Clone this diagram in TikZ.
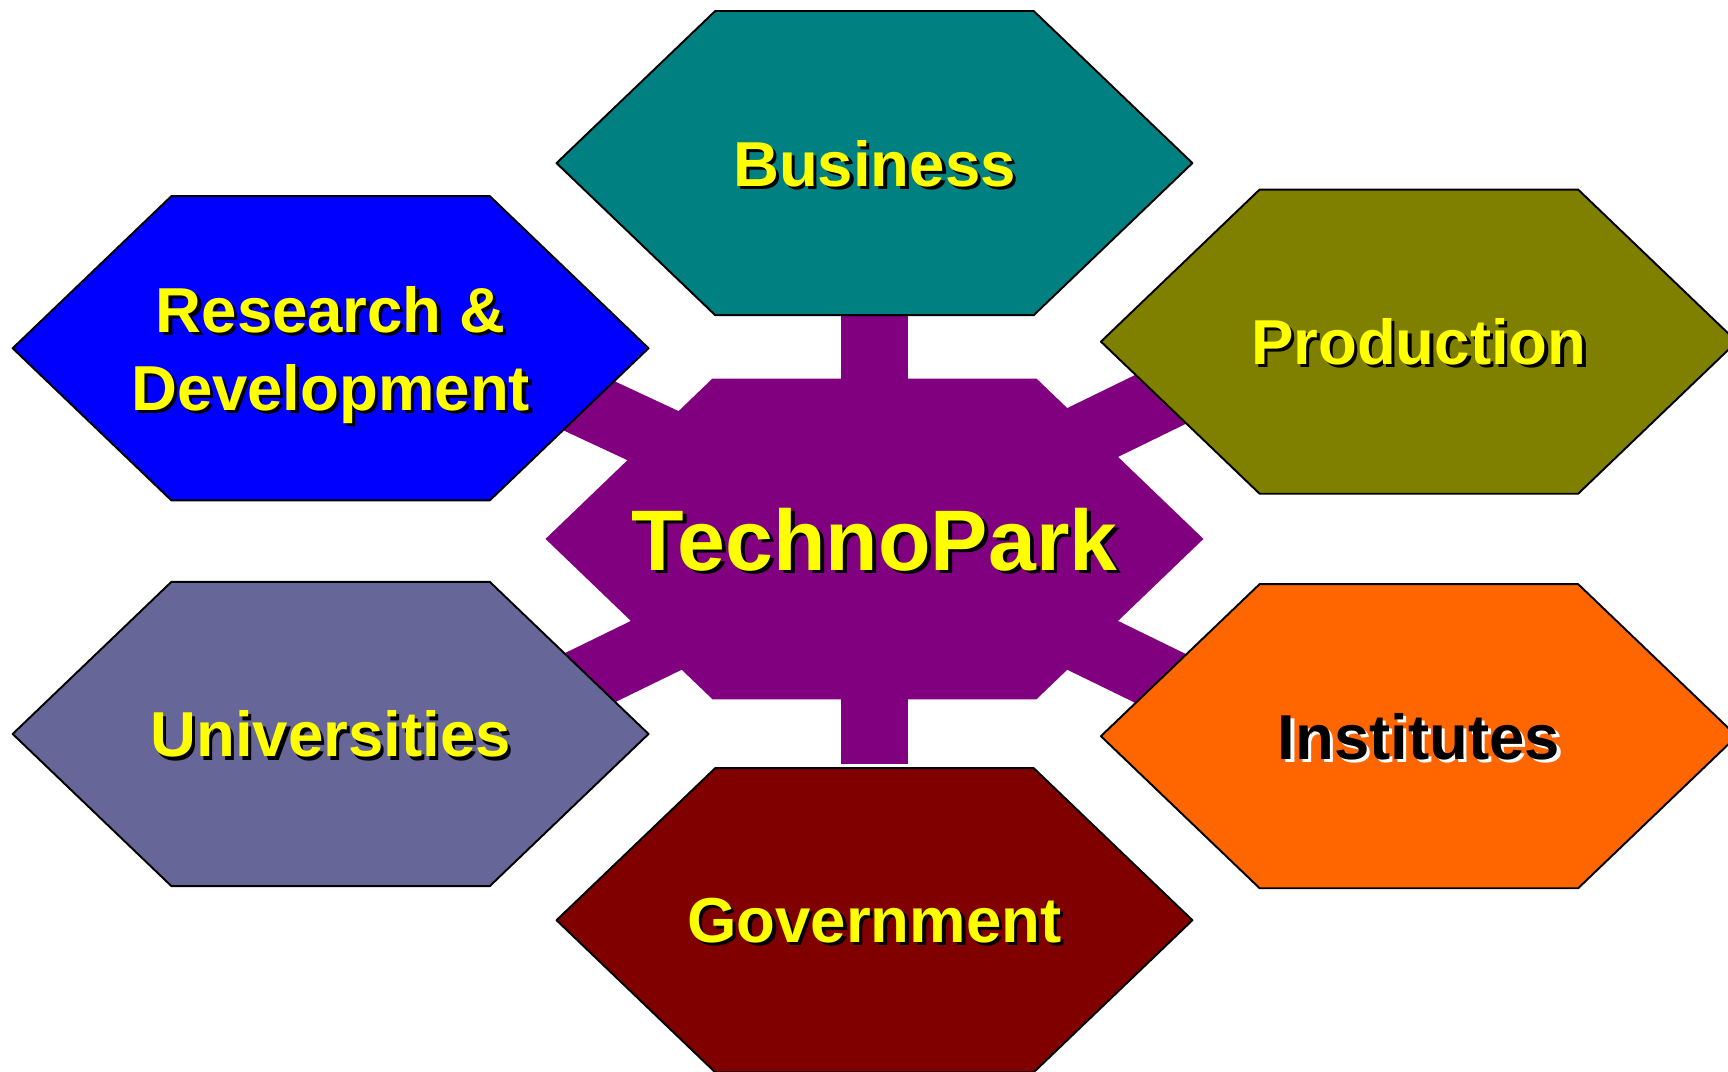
\documentclass[tikz,border=0pt]{standalone}
\usepackage{fontspec}
\setmainfont{Liberation Sans}
\usetikzlibrary{arrows.meta}
\definecolor{parkpurple}{RGB}{128,0,128}
\definecolor{busteal}{RGB}{0,128,128}
\definecolor{rdblue}{RGB}{0,0,255}
\definecolor{prodolive}{RGB}{128,128,0}
\definecolor{unislate}{RGB}{102,102,153}
\definecolor{instorange}{RGB}{255,102,0}
\definecolor{govmaroon}{RGB}{128,0,0}
\definecolor{labelyellow}{RGB}{255,255,0}
% flat hexagon round a centre: #1 centre, #2 fill colour
\newcommand{\hexshape}[2]{%
	\draw[hexline, fill=#2] (#1) ++(-2.885,0) -- ++(1.44,1.38) -- ++(2.89,0)
	-- ++(1.44,-1.38) -- ++(-1.44,-1.38) -- ++(-2.89,0) -- cycle;}

\begin{document}
\begin{tikzpicture}[>=Latex, line cap=round, line join=round,
	hexline/.style={draw=black, line width=0.5pt},
	link/.style={draw=parkpurple, line width=6mm, line cap=butt},
	hexlabel/.style={font=\bfseries\fontsize{16.4}{20}\selectfont, align=center, text depth=0pt},
	hublabel/.style={font=\bfseries\fontsize{22.2}{26}\selectfont, text depth=0pt}]

\useasboundingbox (-7.935,-4.83) rectangle (7.745,4.89);

%========================
% centres
%========================
\coordinate (hub) at (0,0);
\coordinate (bus) at (0,3.41);
\coordinate (rd) at (-4.935,1.73);
\coordinate (prod) at (4.94,1.79);
\coordinate (uni) at (-4.935,-1.77);
\coordinate (inst) at (4.94,-1.79);
\coordinate (gov) at (0,-3.46);

%========================
% purple bars out of the park
%========================
\coordinate (rd-end) at (155:4);
\coordinate (prod-end) at (26:4);
\coordinate (uni-end) at (206:4);
\coordinate (inst-end) at (-26:4);
\draw[link] (hub) -- (bus);
\draw[link, shorten >=14.2mm] (hub) -- (gov);
\draw[link] (hub) -- (rd-end);
\draw[link] (hub) -- (prod-end);
\draw[link] (hub) -- (uni-end);
\draw[link] (hub) -- (inst-end);

% central hexagon (no outline)
\fill[parkpurple] (hub) ++(-2.985,0) -- ++(1.515,1.455) -- ++(2.94,0)
	-- ++(1.515,-1.455) -- ++(-1.515,-1.455) -- ++(-2.94,0) -- cycle;
\node[hublabel, text=black, xshift=0.35mm, yshift=-0.35mm] (hub-sh) at (hub) {TechnoPark};
\node[hublabel, text=labelyellow] (hub-txt) at (hub) {TechnoPark};

%========================
% partner hexagons
%========================
\hexshape{bus}{busteal}
\hexshape{rd}{rdblue}
\hexshape{prod}{prodolive}
\hexshape{uni}{unislate}
\hexshape{inst}{instorange}
\hexshape{gov}{govmaroon}

% labels, each with a drop shadow
\node[hexlabel, text=black, xshift=0.3mm, yshift=-0.3mm] (bus-sh) at (bus) {Business};
\node[hexlabel, text=labelyellow] (bus-txt) at (bus) {Business};
\node[hexlabel, text=black, xshift=0.3mm, yshift=-0.3mm] (rd-sh) at (rd) {Research \&\\Development};
\node[hexlabel, text=labelyellow] (rd-txt) at (rd) {Research \&\\Development};
\node[hexlabel, text=black, xshift=0.3mm, yshift=-0.3mm] (prod-sh) at (prod) {Production};
\node[hexlabel, text=labelyellow] (prod-txt) at (prod) {Production};
\node[hexlabel, text=black, xshift=0.3mm, yshift=-0.3mm] (uni-sh) at (uni) {Universities};
\node[hexlabel, text=labelyellow] (uni-txt) at (uni) {Universities};
\node[hexlabel, text=white, xshift=0.3mm, yshift=-0.3mm] (inst-sh) at (inst) {Institutes};
\node[hexlabel, text=black] (inst-txt) at (inst) {Institutes};
\node[hexlabel, text=black, xshift=0.3mm, yshift=-0.3mm] (gov-sh) at (gov) {Government};
\node[hexlabel, text=labelyellow] (gov-txt) at (gov) {Government};

\end{tikzpicture}
\end{document}
